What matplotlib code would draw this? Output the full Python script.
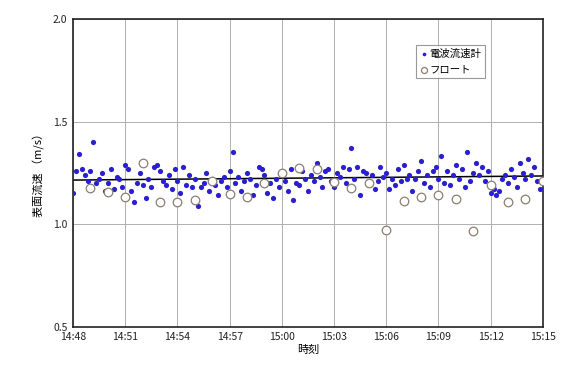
import numpy as np
import matplotlib
matplotlib.use('Agg')
import matplotlib.pyplot as plt
import matplotlib.dates as mdates
from datetime import datetime, timedelta

plt.rcParams['font.family'] = ['Noto Sans CJK JP', 'DejaVu Sans']

# radar current meter: one reading every 10 s from 14:48:00
radar_start = datetime(2000, 1, 1, 14, 48, 0)
radar_step_s = 10
radar_v = [
    1.15, 1.26, 1.34, 1.27, 1.24, 1.21,
    1.26, 1.40, 1.20, 1.22, 1.25, 1.16,
    1.20, 1.27, 1.17, 1.23, 1.22, 1.18,
    1.29, 1.27, 1.16, 1.11, 1.20, 1.25,
    1.19, 1.13, 1.22, 1.18, 1.28, 1.29,
    1.26, 1.21, 1.19, 1.24, 1.17, 1.27,
    1.21, 1.15, 1.28, 1.19, 1.24, 1.18,
    1.22, 1.09, 1.18, 1.20, 1.25, 1.16,
    1.22, 1.19, 1.14, 1.21, 1.23, 1.18,
    1.26, 1.35, 1.20, 1.23, 1.16, 1.21,
    1.25, 1.22, 1.14, 1.19, 1.28, 1.27,
    1.24, 1.15, 1.20, 1.13, 1.22, 1.18,
    1.25, 1.21, 1.16, 1.27, 1.12, 1.20,
    1.19, 1.26, 1.22, 1.16, 1.24, 1.21,
    1.30, 1.23, 1.18, 1.26, 1.27, 1.21,
    1.18, 1.25, 1.23, 1.28, 1.20, 1.27,
    1.37, 1.22, 1.28, 1.14, 1.26, 1.25,
    1.20, 1.24, 1.17, 1.21, 1.28, 1.23,
    1.25, 1.17, 1.22, 1.19, 1.27, 1.21,
    1.29, 1.22, 1.24, 1.16, 1.22, 1.26,
    1.31, 1.20, 1.24, 1.18, 1.26, 1.28,
    1.22, 1.33, 1.20, 1.26, 1.19, 1.24,
    1.29, 1.22, 1.27, 1.18, 1.35, 1.21,
    1.25, 1.30, 1.24, 1.28, 1.21, 1.26,
    1.15, 1.17, 1.14, 1.16, 1.22, 1.24,
    1.20, 1.27, 1.23, 1.18, 1.30, 1.25,
    1.22, 1.32, 1.24, 1.28, 1.21, 1.17,
]

# float measurements, one per minute from 14:49
float_start = datetime(2000, 1, 1, 14, 49, 0)
float_v = [
    1.175, 1.159, 1.134, 1.30, 1.11, 1.11, 1.118, 1.21, 1.148,
    1.132, 1.20, 1.251, 1.273, 1.268, 1.208, 1.175, 1.203, 0.972,
    1.115, 1.134, 1.143, 1.125, 0.969, 1.191, 1.11, 1.125, 1.211,
]

# linear trend of the radar readings (start / end)
trend_v = [1.215, 1.235]

radar_t = [radar_start + timedelta(seconds=radar_step_s * i) for i in range(len(radar_v))]
float_t = [float_start + timedelta(minutes=i) for i in range(len(float_v))]
x0 = datetime(2000, 1, 1, 14, 48)
x1 = datetime(2000, 1, 1, 15, 15)

fig = plt.figure(figsize=(5.62, 3.71), dpi=100)
ax = fig.add_axes([0.130, 0.119, 0.836, 0.830])

ax.plot([x0, x1], trend_v, color='black', lw=1.1, zorder=2)
ax.scatter(radar_t, radar_v, s=14, marker='o', color='#2a1fd0', lw=0,
           label='電波流速計', zorder=3)
ax.scatter(float_t, float_v, s=38, marker='o', facecolor='white',
           edgecolor='#8a7f70', lw=0.9, label='フロート', zorder=4)

ax.set_xlim(x0, x1)
ax.set_ylim(0.5, 2.0)
ax.set_yticks([0.5, 1.0, 1.5, 2.0])
ax.yaxis.set_major_formatter(plt.FormatStrFormatter('%.1f'))
ax.xaxis.set_major_locator(mdates.MinuteLocator(byminute=range(0, 60, 3)))
ax.xaxis.set_major_formatter(mdates.DateFormatter('%H:%M'))
ax.grid(True, color='#b0b0b0', lw=0.7)
ax.set_axisbelow(True)
ax.tick_params(length=0, labelsize=7.5, colors='#222222', pad=4)
for s in ax.spines.values():
    s.set_linewidth(1.2)
    s.set_color('#222222')

ax.set_xlabel('時刻', fontsize=8, labelpad=2)
ax.set_ylabel('表面流速 （m/s）', fontsize=8, labelpad=6)

leg = ax.legend(loc='upper right', bbox_to_anchor=(0.877, 0.916), fontsize=7.5,
                frameon=True, fancybox=False, handletextpad=0.1, borderpad=0.4,
                labelspacing=0.5, handlelength=0.8, borderaxespad=0,
                markerscale=0.7)
leg.get_frame().set_edgecolor('#808080')
leg.get_frame().set_linewidth(0.8)

fig.savefig('out.png', dpi=100)
